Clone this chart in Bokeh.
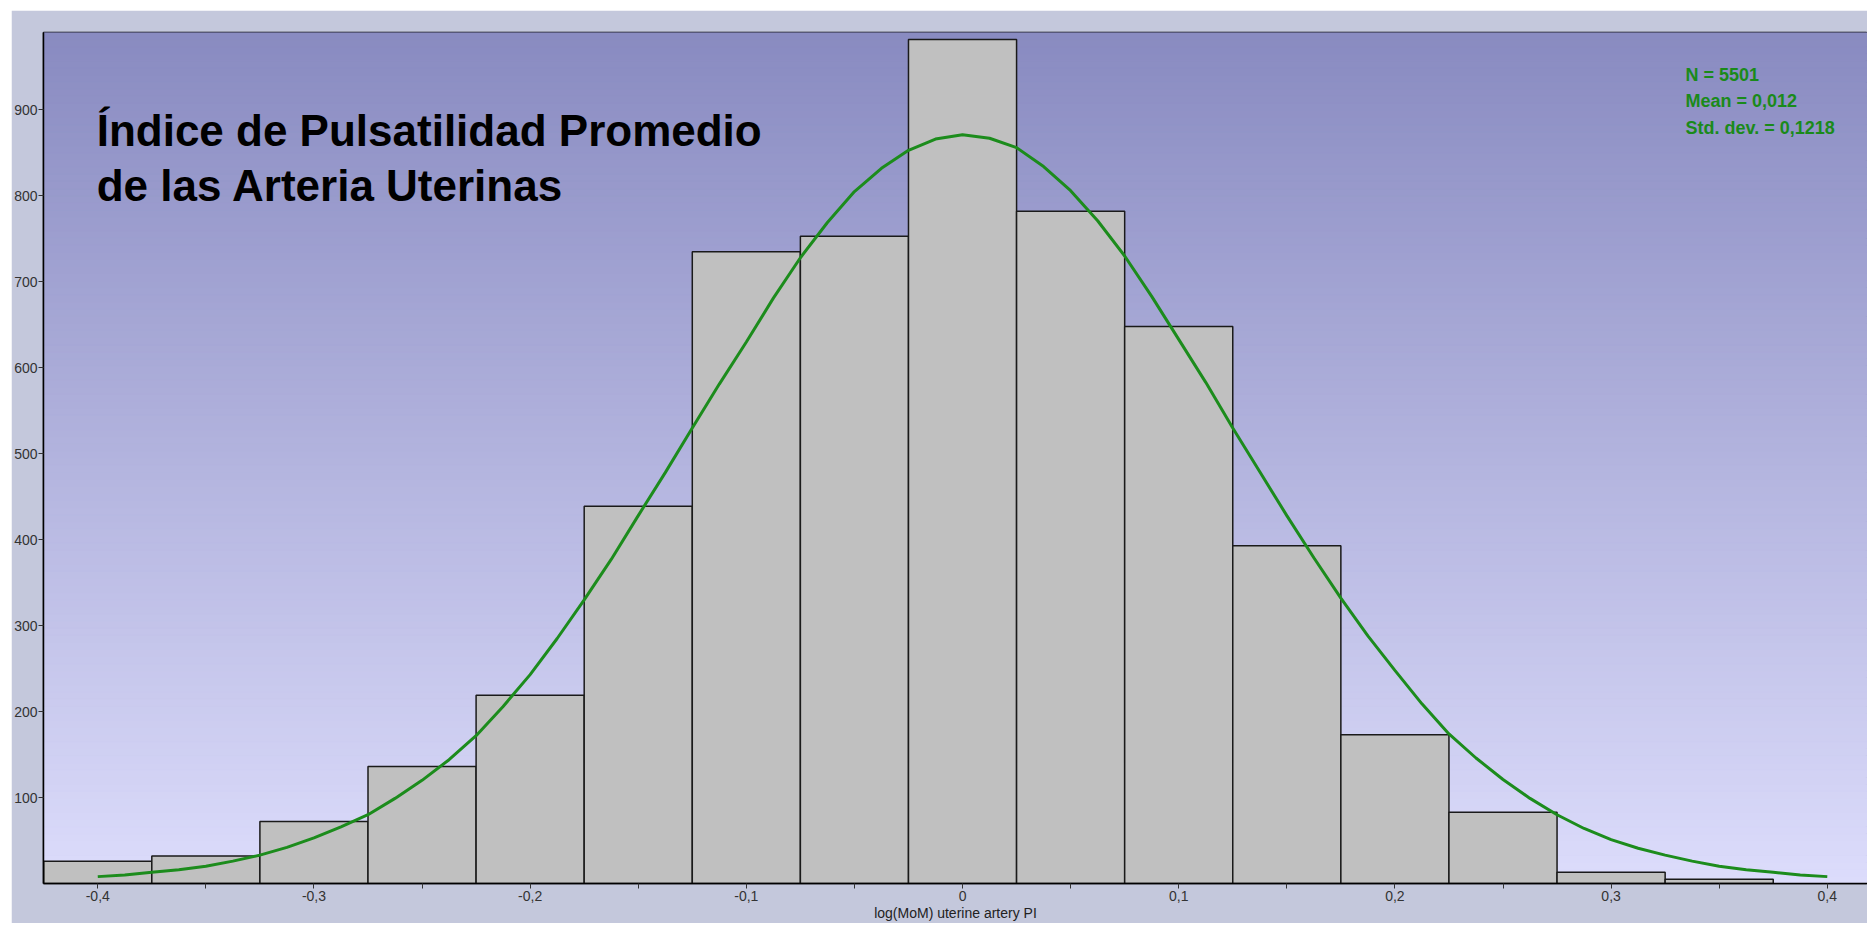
from bokeh.plotting import figure
from bokeh.models import FixedTicker, CustomJSTickFormatter, Label, Range1d
from bokeh.embed import file_html
from bokeh.resources import INLINE

# ---- data ----
bin_centers = [-0.4, -0.35, -0.3, -0.25, -0.2, -0.15, -0.1, -0.05, 0.0,
               0.05, 0.1, 0.15, 0.2, 0.25, 0.3, 0.35]
bin_counts = [26, 32, 72, 136, 219, 439, 735, 753, 982,
              782, 648, 393, 173, 83, 13, 5]
bin_width = 0.05

curve_x = [-0.4, -0.3875, -0.375, -0.3625, -0.35, -0.3375, -0.325, -0.3125,
           -0.3, -0.2875, -0.275, -0.2625, -0.25, -0.2375, -0.225, -0.2125,
           -0.2, -0.1875, -0.175, -0.1625, -0.15, -0.1375, -0.125, -0.1125,
           -0.1, -0.0875, -0.075, -0.0625, -0.05, -0.0375, -0.025, -0.0125,
           0.0,
           0.0125, 0.025, 0.0375, 0.05, 0.0625, 0.075, 0.0875, 0.1,
           0.1125, 0.125, 0.1375, 0.15, 0.1625, 0.175, 0.1875, 0.2,
           0.2125, 0.225, 0.2375, 0.25, 0.2625, 0.275, 0.2875, 0.3,
           0.3125, 0.325, 0.3375, 0.35, 0.3625, 0.375, 0.3875, 0.4]
curve_y = [8, 10, 13, 16, 20, 26, 33, 42,
           53, 66, 80, 99, 120, 144, 172, 206,
           243, 285, 330, 377, 428, 478, 530, 581,
           630, 681, 728, 769, 805, 832, 853, 866,
           871,
           867, 856, 834, 806, 771, 730, 683, 633,
           583, 530, 479, 428, 379, 332, 288, 248,
           209, 174, 146, 121, 99, 80, 64, 51,
           41, 33, 26, 20, 16, 13, 10, 8]

x_ticks = [-0.4, -0.3, -0.2, -0.1, 0.0, 0.1, 0.2, 0.3, 0.4]
x_minor = [-0.35, -0.25, -0.15, -0.05, 0.05, 0.15, 0.25, 0.35]
y_ticks = [100, 200, 300, 400, 500, 600, 700, 800, 900]

title_lines = ["Índice de Pulsatilidad Promedio", "de las Arteria Uterinas"]
stats_lines = ["N = 5501", "Mean = 0,012", "Std. dev. = 0,1218"]
x_label = "log(MoM) uterine artery PI"

X0, X1 = -0.4251, 0.4186
Y0, Y1 = 0, 990

p = figure(output_backend="svg", toolbar_location=None,
           x_range=Range1d(X0, X1), y_range=Range1d(Y0, Y1),
           min_border_left=32, min_border_right=0, min_border_top=22,
           min_border_bottom=28, frame_width=1824, frame_height=851)
p.margin = (10, 0, 0, 11)
p.border_fill_color = "#c4c8dc"
p.background_fill_color = "#b0b0e0"
p.outline_line_color = "black"
p.outline_line_width = 1.5
p.xgrid.visible = False
p.ygrid.visible = False

# vertical gradient background (styling only)
n = 120
top_c = (137, 139, 193)
bot_c = (220, 220, 251)
bands_b, bands_t, bands_c = [], [], []
for i in range(n):
    f = i / (n - 1)
    r = int(round(bot_c[0] + (top_c[0] - bot_c[0]) * f))
    g = int(round(bot_c[1] + (top_c[1] - bot_c[1]) * f))
    b = int(round(bot_c[2] + (top_c[2] - bot_c[2]) * f))
    bands_b.append(Y0 + (Y1 - Y0) * i / n)
    bands_t.append(Y0 + (Y1 - Y0) * (i + 1) / n)
    bands_c.append("#%02x%02x%02x" % (r, g, b))
p.quad(left=[X0] * n, right=[X1] * n, bottom=bands_b, top=bands_t,
       fill_color=bands_c, line_color=bands_c, line_width=1)

# histogram bars
p.quad(left=[c - bin_width / 2 for c in bin_centers],
       right=[c + bin_width / 2 for c in bin_centers],
       bottom=[0] * len(bin_centers), top=bin_counts,
       fill_color="#c0c0c0", line_color="#1a1a1a", line_width=1.5)

# fitted curve
p.line(curve_x, curve_y, line_color="#1c8c1c", line_width=3)

# axes
xa = p.xaxis[0]
xa.ticker = FixedTicker(ticks=x_ticks, minor_ticks=x_minor)
xa.formatter = CustomJSTickFormatter(code="""
    if (Math.abs(tick) < 1e-9) { return '0'; }
    return tick.toFixed(1).replace('.', ',');
""")
xa.axis_label = x_label
xa.axis_label_text_font = "Liberation Sans"
xa.axis_label_text_font_size = "14px"
xa.axis_label_text_font_style = "normal"
xa.axis_label_text_color = "#222222"
xa.axis_label_standoff = 1
xa.major_label_text_font = "Liberation Sans"
xa.major_label_text_font_size = "14px"
xa.major_label_text_color = "#333333"
xa.major_label_standoff = 2
xa.major_tick_out = 5
xa.major_tick_in = 0
xa.minor_tick_out = 5
xa.minor_tick_in = 0
xa.axis_line_color = "black"
xa.axis_line_width = 1.5
xa.major_tick_line_color = "#333333"
xa.minor_tick_line_color = "#333333"

ya = p.yaxis[0]
ya.ticker = FixedTicker(ticks=y_ticks)
ya.major_label_text_font = "Liberation Sans"
ya.major_label_text_font_size = "14px"
ya.major_label_text_color = "#333333"
ya.major_label_standoff = 1
ya.major_tick_out = 5
ya.major_tick_in = 0
ya.minor_tick_line_color = None
ya.axis_line_color = "black"
ya.axis_line_width = 1.5
ya.major_tick_line_color = "#333333"

# title text inside plot
for line, yv in zip(title_lines, [876, 812]):
    p.add_layout(Label(x=-0.4005, y=yv, text=line, text_font="Liberation Sans",
                       text_font_size="44px", text_font_style="bold",
                       text_color="black", text_baseline="alphabetic",
                       text_align="left"))

# stats text
for line, yv in zip(stats_lines, [940, 910, 879]):
    p.add_layout(Label(x=0.3344, y=yv, text=line, text_font="Liberation Sans",
                       text_font_size="18px", text_font_style="bold",
                       text_color="#1a8a1a", text_baseline="alphabetic",
                       text_align="left"))

open("out.html", "w").write(file_html(p, INLINE))
